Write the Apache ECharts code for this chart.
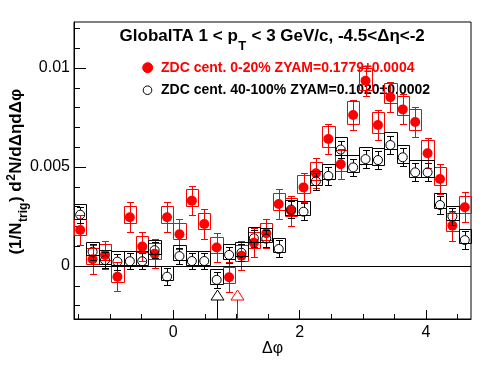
<!DOCTYPE html>
<html><head><meta charset="utf-8">
<script src="https://cdn.jsdelivr.net/npm/echarts@6/dist/echarts.min.js"></script>
<style>html,body{margin:0;padding:0;background:#fff;} #c{width:496px;height:372px;}</style>
</head><body><div id="c"></div>
<script>
// ---- data ----
const binCenters = [-1.4726,-1.2763,-1.0799,-0.8836,-0.6872,-0.4909,-0.2945,-0.0982,
  0.0982,0.2945,0.4909,0.6872,0.8836,1.0799,1.2763,1.4726,
  1.6690,1.8653,2.0617,2.2580,2.4544,2.6507,2.8471,3.0434,
  3.2398,3.4361,3.6325,3.8288,4.0252,4.2215,4.4179,4.6142];
const binHalfWidth = 0.09817;

const redVal = [0.00182,0.00034,0.00056,-0.00054,0.00246,0.00098,0.00062,0.00246,
  0.00160,0.00330,0.00212,0.00093,-0.00057,0.00052,0.00118,0.00165,
  0.00313,0.00279,0.00397,0.00468,0.00641,0.00514,0.00763,0.00936,
  0.00712,0.00853,0.00791,0.00727,0.00569,0.00439,0.00204,0.00297];
const redStat = [0.00074,0.00072,0.00070,0.00072,0.00076,0.00072,0.00072,0.00075,
  0.00075,0.00072,0.00076,0.00074,0.00075,0.00074,0.00072,0.00074,
  0.00074,0.00076,0.00075,0.00076,0.00076,0.00076,0.00076,0.00076,
  0.00076,0.00075,0.00076,0.00076,0.00076,0.00076,0.00076,0.00075];
const redSysUp = [0.00056,0.00056,0.00055,0.00054,0.00057,0.00055,0.00055,0.00057,
  0.00056,0.00058,0.00056,0.00055,0.00054,0.00055,0.00055,0.00052,
  0.00057,0.00063,0.00061,0.00055,0.00066,0.00070,0.00071,0.00066,
  0.00067,0.00071,0.00067,0.00066,0.00067,0.00059,0.00063,0.00057];
const redSysDown = [0.00025,0.00024,0.00026,0.00028,0.00027,0.00026,0.00026,0.00027,
  0.00026,0.00028,0.00027,0.00026,0.00027,0.00026,0.00027,0.00032,
  0.00030,0.00027,0.00027,0.00035,0.00042,0.00032,0.00045,0.00045,
  0.00039,0.00030,0.00029,0.00039,0.00034,0.00030,0.00025,0.00030];

const blackVal = [0.00259,0.00072,0.00030,0.00022,0.00024,0.00024,0.00080,-0.00054,
  0.00050,0.00025,0.00025,-0.00070,0.00056,0.00067,0.00140,0.00138,
  0.00086,0.00285,0.00274,0.00428,0.00455,0.00588,0.00498,0.00540,
  0.00535,0.00611,0.00549,0.00473,0.00473,0.00308,0.00251,0.00131];
const blackStat = [0.00040,0.00040,0.00041,0.00041,0.00041,0.00041,0.00041,0.00042,
  0.00042,0.00042,0.00042,0.00042,0.00042,0.00042,0.00042,0.00043,
  0.00043,0.00043,0.00043,0.00044,0.00044,0.00044,0.00044,0.00044,
  0.00044,0.00045,0.00045,0.00045,0.00045,0.00044,0.00044,0.00045];
const blackSysUp = [0.00052,0.00050,0.00052,0.00052,0.00052,0.00052,0.00053,0.00054,
  0.00054,0.00053,0.00053,0.00054,0.00054,0.00054,0.00055,0.00055,
  0.00056,0.00050,0.00054,0.00054,0.00061,0.00064,0.00062,0.00059,
  0.00059,0.00064,0.00062,0.00062,0.00062,0.00059,0.00052,0.00054];
const blackSysDown = [0.00020,0.00018,0.00019,0.00019,0.00019,0.00019,0.00019,0.00019,
  0.00019,0.00019,0.00019,0.00019,0.00019,0.00019,0.00018,0.00018,
  0.00017,0.00025,0.00017,0.00017,0.00017,0.00029,0.00022,0.00025,
  0.00025,0.00022,0.00027,0.00022,0.00022,0.00017,0.00017,0.00014];

const zyamMinBlack = [0.70];
const zyamMinRed = [1.01];
const arrowTipY = -0.00121;

const xMin = -1.5708, xMax = 4.7124;
const yMin = -0.002677, yMax = 0.012323;
const xMajorTicks = [0, 2, 4];
const xMinorTicks = [-1.5,-1,-0.5,0.5,1,1.5,2.5,3,3.5,4.5];
const yMajorTicks = [0, 0.005, 0.01];
const yMinorTicks = [-0.002,-0.001,0.001,0.002,0.003,0.004,0.006,0.007,0.008,0.009,0.011,0.012];

const titleMain1 = 'GlobalTA 1 < p';
const titleSub = 'T';
const titleMain2 = ' < 3 GeV/c, -4.5<\u0394\u03b7<-2';
const legendRed = 'ZDC cent. 0-20% ZYAM=0.1779\u00b10.0004';
const legendBlack = 'ZDC cent. 40-100% ZYAM=0.1020\u00b10.0002';

// ---- rendering ----
const RED = '#ff0000', BLACK = '#000000';
const FONT = '"Liberation Sans", Arial, Helvetica, sans-serif';
const mctx = document.createElement('canvas').getContext('2d');
function tw(text, size, bold) { mctx.font = (bold ? 'bold ' : '') + size + 'px ' + FONT; return mctx.measureText(text).width; }

const chart = echarts.init(document.getElementById('c'), null, {renderer: 'canvas'});

function px(v) { return Math.round(v) + 0.5; }

function boxRender(color) {
  return function (params, api) {
    const x = api.value(0), lo = api.value(1), hi = api.value(2);
    const a = api.coord([x - binHalfWidth, hi]);
    const b = api.coord([x + binHalfWidth, lo]);
    const x0 = px(a[0]), x1 = px(b[0]), y0 = px(a[1]), y1 = px(b[1]);
    return {type: 'rect', shape: {x: x0, y: y0, width: x1 - x0, height: y1 - y0},
      style: {fill: 'none', stroke: color, lineWidth: 1}};
  };
}
function errRender(color, gap) {
  return function (params, api) {
    const x = api.value(0), v = api.value(1), e = api.value(2);
    const pc = api.coord([x, v]), pt = api.coord([x, v + e]), pb = api.coord([x, v - e]);
    const X = px(pc[0]);
    const yt = px(pt[1]), yb = px(pb[1]);
    const st = {stroke: color, lineWidth: 1};
    return {type: 'group', children: [
      {type: 'line', shape: {x1: X, y1: yt, x2: X, y2: pc[1] - gap}, style: st},
      {type: 'line', shape: {x1: X, y1: pc[1] + gap, x2: X, y2: yb}, style: st},
      {type: 'line', shape: {x1: X - 3.5, y1: yt, x2: X + 3.5, y2: yt}, style: st},
      {type: 'line', shape: {x1: X - 3.5, y1: yb, x2: X + 3.5, y2: yb}, style: st}
    ]};
  };
}
function arrowRender(color) {
  return function (params, api) {
    const x = api.value(0), t = api.value(1);
    const tip = api.coord([x, t]);
    const bottom = params.coordSys.y + params.coordSys.height;
    const X = px(tip[0]);
    const ty = Math.round(tip[1]);
    const by = ty + 10;
    return {type: 'group', children: [
      {type: 'polygon', shape: {points: [[X, ty], [X - 6.5, by], [X + 6.5, by]]},
        style: {fill: 'none', stroke: color, lineWidth: 1}},
      {type: 'line', shape: {x1: X, y1: by, x2: X, y2: bottom}, style: {stroke: color, lineWidth: 1}}
    ]};
  };
}

const redBoxes = binCenters.map((c, i) => [c, redVal[i] - redSysDown[i], redVal[i] + redSysUp[i]]);
const blackBoxes = binCenters.map((c, i) => [c, blackVal[i] - blackSysDown[i], blackVal[i] + blackSysUp[i]]);
const redErr = binCenters.map((c, i) => [c, redVal[i], redStat[i]]);
const blackErr = binCenters.map((c, i) => [c, blackVal[i], blackStat[i]]);
const redPts = binCenters.map((c, i) => [c, redVal[i]]);
const blackPts = binCenters.map((c, i) => [c, blackVal[i]]);

const axisCommon = {type: 'value', min: xMin, max: xMax, position: 'bottom', splitLine: {show: false}};
const yCommon = {type: 'value', min: yMin, max: yMax, position: 'left', splitLine: {show: false}};

// graphics: title, legend, axis titles
const graphics = [];
{
  const s1 = 17, ss = 13;
  const w1 = tw(titleMain1, s1, true), wsub = tw(titleSub, ss, true), w2 = tw(titleMain2, s1, true);
  const total = w1 + wsub + 1 + w2;
  const x0 = 272.2 - total / 2;
  const base = 42.3;
  graphics.push({type: 'text', x: x0, y: base - 0.35 * s1, style: {text: titleMain1, font: 'bold ' + s1 + 'px ' + FONT, fill: '#000', verticalAlign: 'middle', align: 'left'}});
  graphics.push({type: 'text', x: x0 + w1 + 0.5, y: base + 9 - 0.35 * ss, style: {text: titleSub, font: 'bold ' + ss + 'px ' + FONT, fill: '#000', verticalAlign: 'middle', align: 'left'}});
  graphics.push({type: 'text', x: x0 + w1 + wsub + 1, y: base - 0.35 * s1, style: {text: titleMain2, font: 'bold ' + s1 + 'px ' + FONT, fill: '#000', verticalAlign: 'middle', align: 'left'}});
}
{
  const ls = 14;
  graphics.push({type: 'circle', shape: {cx: 147.7, cy: 67.7, r: 5}, style: {fill: RED, stroke: RED}});
  graphics.push({type: 'text', x: 161, y: 72.7 - 0.35 * ls, style: {text: legendRed, font: 'bold ' + ls + 'px ' + FONT, fill: RED, verticalAlign: 'middle', align: 'left'}});
  graphics.push({type: 'circle', shape: {cx: 147.5, cy: 90.2, r: 4.3}, style: {fill: 'none', stroke: BLACK, lineWidth: 1}});
  graphics.push({type: 'text', x: 161, y: 95 - 0.35 * ls, style: {text: legendBlack, font: 'bold ' + ls + 'px ' + FONT, fill: BLACK, verticalAlign: 'middle', align: 'left'}});
}
graphics.push({type: 'text', x: 272.5, y: 349, style: {text: '\u0394\u03c6', font: '16px ' + FONT, fill: '#000', verticalAlign: 'middle', align: 'center'}});
{
  // rotated y-axis title
  const s = 17, ss = 12;
  const p = [
    {t: '(1/N', size: s, dy: 0},
    {t: 'trig', size: ss, dy: 5},
    {t: ') d', size: s, dy: 0},
    {t: '2', size: ss, dy: -7},
    {t: 'N/d\u0394\u03b7d\u0394\u03c6', size: s, dy: 0}
  ];
  let total = 0; p.forEach(q => { q.w = tw(q.t, q.size, true); total += q.w + 0.5; });
  const children = [];
  let cx = 0;
  p.forEach(q => {
    children.push({type: 'text', x: cx, y: q.dy + (0.35 * s - 0.35 * q.size), style: {text: q.t, font: 'bold ' + q.size + 'px ' + FONT, fill: '#000', verticalAlign: 'middle', align: 'left'}});
    cx += q.w + 0.5;
  });
  graphics.push({type: 'group', x: 22.5 - 0.35 * s, y: 171.5 + total / 2, rotation: Math.PI / 2, children: children});
}

const option = {
  animation: false,
  backgroundColor: '#fff',
  grid: {left: 74, right: 25, top: 22, bottom: 53, show: true, borderColor: '#000', borderWidth: 1, backgroundColor: 'transparent'},
  xAxis: [
    Object.assign({}, axisCommon, {
      axisLine: {show: true, onZero: false, lineStyle: {color: '#000', width: 1}},
      axisTick: {show: true, inside: true, length: 9, customValues: xMajorTicks, lineStyle: {color: '#000'}},
      axisLabel: {show: true, customValues: xMajorTicks, margin: 6, color: '#000', fontSize: 16, fontFamily: FONT}
    }),
    Object.assign({}, axisCommon, {
      axisLine: {show: false, onZero: false},
      axisTick: {show: true, inside: true, length: 5, customValues: xMinorTicks, lineStyle: {color: '#000'}},
      axisLabel: {show: false}
    })
  ],
  yAxis: [
    Object.assign({}, yCommon, {
      axisLine: {show: true, onZero: false, lineStyle: {color: '#000', width: 1}},
      axisTick: {show: true, inside: true, length: 12, customValues: yMajorTicks, lineStyle: {color: '#000'}},
      axisLabel: {show: true, customValues: yMajorTicks, margin: 4, color: '#000', fontSize: 16, fontFamily: FONT,
        formatter: v => (v === 0 ? '0' : String(+v.toFixed(4)))}
    }),
    Object.assign({}, yCommon, {
      axisLine: {show: false, onZero: false},
      axisTick: {show: true, inside: true, length: 6, customValues: yMinorTicks, lineStyle: {color: '#000'}},
      axisLabel: {show: false}
    })
  ],
  graphic: graphics,
  series: [
    {type: 'custom', name: 'zero', renderItem: () => null, data: [[0, 0]], xAxisIndex: 0, yAxisIndex: 0,
      markLine: {silent: true, symbol: 'none', label: {show: false}, lineStyle: {color: '#000', width: 1, type: 'solid'}, data: [{yAxis: 0}]}},
    {type: 'custom', renderItem: boxRender(RED), data: redBoxes, z: 2},
    {type: 'custom', renderItem: errRender(RED, 0), data: redErr, z: 3},
    {type: 'scatter', data: redPts, symbol: 'circle', symbolSize: 10, itemStyle: {color: RED, opacity: 1}, z: 4},
    {type: 'custom', renderItem: boxRender(BLACK), data: blackBoxes, z: 5},
    {type: 'custom', renderItem: errRender(BLACK, 4.5), data: blackErr, z: 6},
    {type: 'scatter', data: blackPts, symbol: 'circle', symbolSize: 9, itemStyle: {color: 'rgba(255,255,255,0)', borderColor: BLACK, borderWidth: 1, opacity: 1}, z: 7},
    {type: 'custom', renderItem: arrowRender(BLACK), data: zyamMinBlack.map(v => [v, arrowTipY]), z: 8},
    {type: 'custom', renderItem: arrowRender(RED), data: zyamMinRed.map(v => [v, arrowTipY]), z: 8}
  ]
};
chart.setOption(option);
</script></body></html>
